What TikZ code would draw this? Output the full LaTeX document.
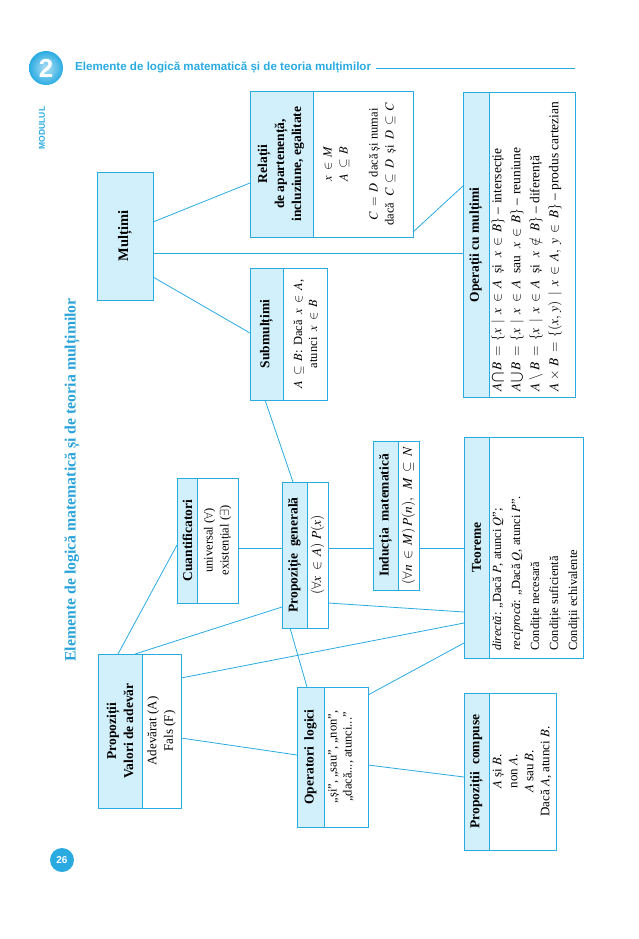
\documentclass[tikz,border=0pt]{standalone}
\usepackage{mathptmx}
\usepackage{fontspec}
\setmainfont{Liberation Serif}
\newfontfamily\hsans{Liberation Sans}
\definecolor{bl}{HTML}{29ABE2}
\definecolor{hfill}{HTML}{D2F0FB}
\definecolor{ttl}{HTML}{2AA3DB}
\thickmuskip=7mu
\medmuskip=4.5mu
\newcommand\diabox[6]{%
  \pgfmathsetmacro\dbW{#4-#2}\pgfmathsetmacro\dbH{#5-#3}%
  \node[boxst, minimum width=\dbW pt, minimum height=\dbH pt, anchor=north west] (#1) at (#2,#3) {};
  \node[headst, minimum width=#6pt, minimum height=\dbH pt, anchor=north west] (#1h) at (#2,#3) {};
}
\begin{document}
\begin{tikzpicture}[x=1pt,y=-1pt,
  boxst/.style={draw=bl, line width=0.9pt, fill=white, inner sep=0pt, outer sep=0pt},
  headst/.style={draw=bl, line width=0.9pt, fill=hfill, inner sep=0pt, outer sep=0pt},
  link/.style={draw=bl, line width=0.8pt},
  rt/.style={rotate=90, align=center, inner sep=0pt, font=\fontsize{12.5}{16}\selectfont},
  hd/.style={rotate=90, align=center, inner sep=0pt, font=\fontsize{13.5}{17}\selectfont\bfseries},
]
\useasboundingbox (0,0) rectangle (638,939);

% page header
\node[circle, minimum size=34pt, inner sep=0pt, shading=radial, inner color=bl!35, outer color=bl,
      text=white, font=\hsans\bfseries\fontsize{26}{28}\selectfont] (mod2) at (46,68) {2};
\node[rotate=90, inner sep=0pt, text=bl, font=\hsans\bfseries\fontsize{8.5}{10}\selectfont] (modl) at (42,128) {MODULUL};
\node[anchor=west, inner sep=0pt, text=bl, font=\hsans\bfseries\fontsize{11.6}{13}\selectfont] (htitle) at (75,68)
  {Elemente de logică matematică și de teoria mulțimilor};
\coordinate (hlend) at (575,68);
\draw[bl, line width=0.6pt] ([xshift=5pt]htitle.east) -- (hlend);

% side title
\node[rotate=90, inner sep=0pt, text=ttl, font=\bfseries\fontsize{15.8}{17}\selectfont] (stitle) at (72,480)
  {Elemente de logică matematică și de teoria mulțimilor};

% page number
\node[circle, fill=bl, minimum size=24pt, inner sep=0pt, text=white, font=\hsans\bfseries\fontsize{10}{12}\selectfont] (pnum) at (62,860) {26};

% boxes
\diabox{mult}{97}{172}{153}{300}{56}
\diabox{rel}{250}{91}{413}{237}{63}
\diabox{sub}{250}{268}{327}{400}{33}
\diabox{oper}{463}{92}{575}{397}{26}
\diabox{cu}{177}{478}{238}{603}{20}
\diabox{pg}{282}{482}{328}{628}{25}
\diabox{ind}{373}{441}{419}{590}{25}
\diabox{teo}{464}{437}{583}{658}{25}
\diabox{pv}{98}{654}{181}{808}{44}
\diabox{op}{297}{687}{368}{827}{27}
\diabox{comp}{464}{693}{556}{850}{25}

% connectors
\draw[link] (mult.east |- 0,222) -- (rel.west |- 0,183);
\draw[link] (mult.east |- 0,253) -- (oper.west |- 0,253);
\draw[link] (mult.east |- 0,277) -- (sub.west |- 0,333);
\draw[link] (rel.east |- 0,232) -- (oper.west |- 0,186);
\draw[link] (sub.south -| 265,0) -- (pg.north -| 293,0);
\draw[link] (cu.east |- 0,548) -- (pg.west |- 0,548);
\draw[link] (pg.east |- 0,548) -- (ind.west |- 0,548);
\draw[link] (ind.east |- 0,548) -- (teo.west |- 0,548);
\draw[link] (pg.east |- 0,603) -- (teo.west |- 0,612);
\draw[link] (pv.east |- 0,678) -- (teo.west |- 0,623);
\draw[link] (pv.north -| 118,0) -- (cu.west |- 0,545);
\draw[link] (pv.north -| 135,0) -- (pg.west |- 0,607);
\draw[link] (pv.east |- 0,738) -- (op.west |- 0,755);
\draw[link] (op.north -| 307,0) -- (pg.south -| 290,0);
\draw[link] (op.east |- 0,695) -- (teo.west |- 0,643);
\draw[link] (op.east |- 0,765) -- (comp.west |- 0,777);

% texts
\node[hd, font=\fontsize{14.5}{16}\selectfont\bfseries] (multT) at (125,236) {Mulțimi};

\node[hd] (relH) at (281,164) {Relații\\de apartenență,\\incluziune, egalitate};
\node[rt] (relB) at (360,164) {$x\in M$\\ $A\subseteq B$\\[14pt] $C=D$\ \ dacă și numai\\ dacă\ \ $C\subseteq D$\ \ și\ \ $D\subseteq C$};

\node[hd] (subH) at (266.5,334) {Submulțimi};
\node[rt, font=\fontsize{12.5}{15}\selectfont] (subB) at (305.5,334) {$A\subseteq B$: Dacă\ \ $x\in A$,\\ atunci\ \ $x\in B$};

\node[hd] (operH) at (476,245) {Operații cu mulțimi};
\node[rt, align=left, anchor=west, font=\fontsize{13.5}{19}\selectfont] (operB) at (526.5,392)
 {$A\bigcap B=\{x\mid x\in A$\ \ și\ \ $x\in B\}$ -- intersecție\\
  $A\bigcup B=\{x\mid x\in A$\ \ sau\ \ $x\in B\}$ -- reuniune\\
  $A\setminus B=\{x\mid x\in A$\ \ și\ \ $x\notin B\}$ -- diferență\\
  $A\times B=\{(x,\,y)\mid x\in A,\ y\in B\}$ -- produs cartezian};

\node[hd] (cuH) at (187.5,540.5) {Cuantificatori};
\node[rt] (cuB) at (217.5,540.5) {universal ($\forall$)\\existențial ($\exists$)};

\node[hd] (pgH) at (294.5,555) {Propoziție\ \ generală};
\node[rt, font=\fontsize{13.5}{16}\selectfont] (pgB) at (317.5,555) {$(\forall x\in A)\ P(x)$};

\node[hd] (indH) at (385.5,515.5) {Inducția\ \ matematică};
\node[rt, font=\fontsize{13.5}{16}\selectfont] (indB) at (408.5,515.5) {$(\forall n\in M)\,P(n),\ \ M\subseteq N$};

\node[hd] (teoH) at (476.5,547.5) {Teoreme};
\node[rt, align=left, anchor=west, font=\fontsize{12.5}{19}\selectfont] (teoB) at (536,651)
 {\textit{directă}: „Dacă $P$, atunci $Q$”;\\
  \textit{reciprocă}: „Dacă $Q$, atunci $P$”.\\
  Condiție necesară\\
  Condiție suficientă\\
  Condiții echivalente};

\node[hd] (pvH) at (120,731) {Propoziții\\Valori\ de\ adevăr};
\node[rt, font=\fontsize{13}{16.5}\selectfont] (pvB) at (161.5,731) {Adevărat (A)\\Fals (F)};

\node[hd] (opH) at (310.5,757) {Operatori\ \ logici};
\node[rt, font=\fontsize{12.5}{15}\selectfont] (opB) at (341,757) {„și”, „sau”, „non”,\\„dacă..., atunci...”};

\node[hd] (compH) at (476.5,771.5) {Propoziții\ \ compuse};
\node[rt, font=\fontsize{13}{16}\selectfont] (compB) at (522,771.5) {$A$ și $B$.\\non $A$.\\$A$ sau $B$.\\Dacă $A$, atunci $B$.};
\end{tikzpicture}
\end{document}
